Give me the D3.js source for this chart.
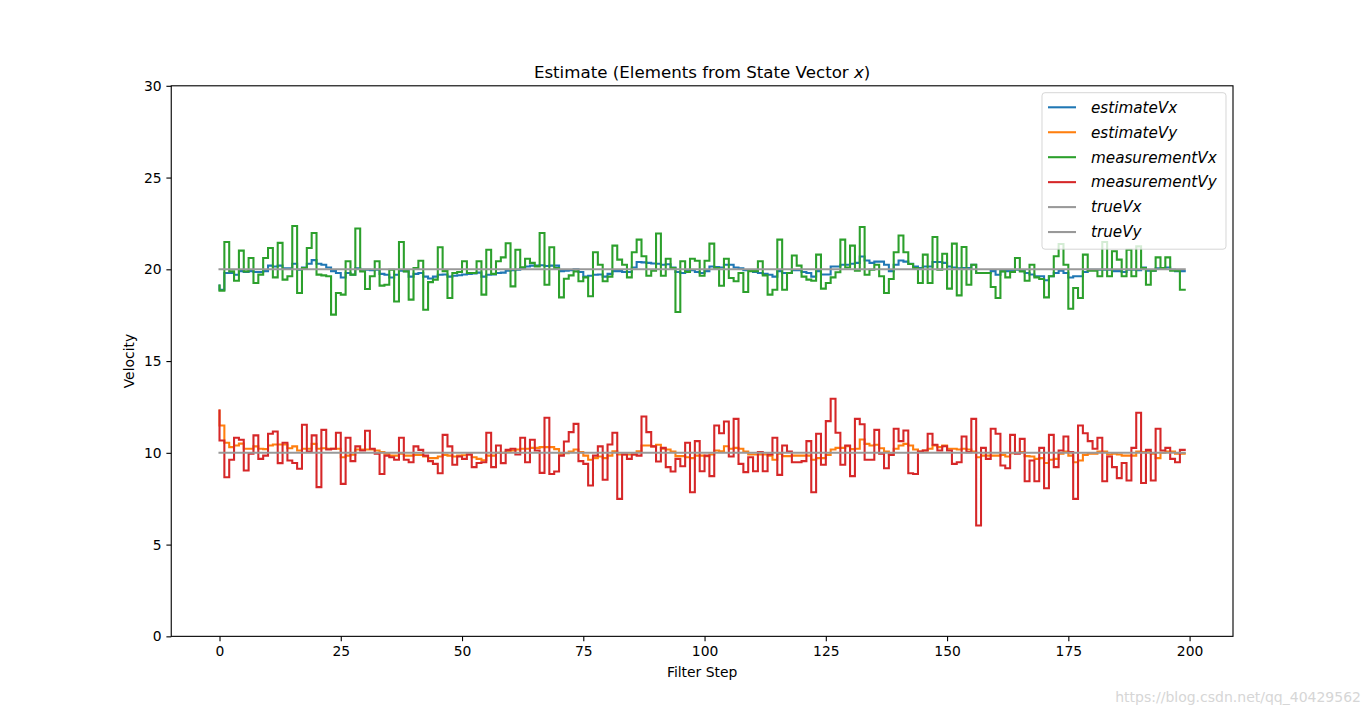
<!DOCTYPE html>
<html><head><meta charset="utf-8">
<script src="https://cdn.jsdelivr.net/npm/d3@7"></script>
<style>body{margin:0;background:#fff}svg{display:block}text{font-family:"DejaVu Sans",sans-serif}</style>
</head><body><svg id="c" width="1370" height="715"></svg>
<script>
const xTicks = [0,25,50,75,100,125,150,175,200];
const yTicks = [0,5,10,15,20,25,30];
const seriesNames = ["estimateVx","estimateVy","measurementVx","measurementVy","trueVx","trueVy"];
const seriesColors = ["#1f77b4","#ff7f0e","#2ca02c","#d62728","#999999","#999999"];

const estimateVx = [19.11,18.89,19.8,19.8,19.7,19.9,19.85,19.9,19.85,19.85,19.9,20.2,20.15,20.2,20.05,20.05,20.3,19.98,20.1,20.3,20.5,20.3,20.25,20.1,19.9,19.8,19.55,19.8,19.7,20.05,19.98,19.98,19.95,19.98,19.75,19.7,19.55,19.7,19.93,19.9,19.6,
19.75,19.8,19.6,19.5,19.6,19.7,19.72,19.6,19.65,19.68,19.72,19.75,19.78,19.82,19.6,19.7,19.72,19.8,19.82,19.92,19.95,19.98,20.07,20.15,20.2,20.2,20.22,20.18,20.2,20.2,19.9,19.92,19.95,20.0,19.85,19.6,19.65,19.7,19.72,19.6,
19.75,19.9,19.9,19.85,19.85,20.1,20.4,20.38,20.35,20.32,20.3,20.25,20.28,20.1,19.85,19.8,19.9,19.95,19.85,19.8,19.9,20.15,20.12,20.1,20.25,20.25,20.1,20.05,19.95,19.95,19.85,19.8,19.75,19.7,19.6,19.9,19.8,19.8,19.95,19.95,
19.85,19.8,19.6,19.9,19.72,19.72,20.15,20.15,20.25,20.25,20.3,20.35,20.7,20.48,20.35,20.42,20.42,20.25,19.9,20.25,20.48,20.42,20.3,20.15,20.07,20.15,20.15,20.4,20.4,20.35,20.15,20.1,20.05,20.07,20.07,20.25,19.8,19.8,19.8,19.9,19.7,
19.9,19.9,19.92,19.98,19.95,19.8,19.72,19.62,19.62,19.4,19.62,19.8,19.93,19.8,19.55,19.62,19.62,19.85,19.98,19.98,19.98,19.98,19.98,19.9,19.9,19.85,19.98,19.98,19.95,20.1,19.93,19.93,20.05,20.05,20.1,19.98,19.9,19.9];

const estimateVy = [12.31,11.49,10.55,10.31,10.4,10.5,10.22,10.22,10.35,10.22,10.2,10.4,10.45,10.45,10.45,10.25,10.35,10.13,10.22,10.22,10.49,10.22,10.25,10.22,10.22,10.22,9.76,9.85,9.9,10.18,10.18,10.18,10.18,10.13,10.04,9.95,9.85,9.85,9.95,9.85,9.85,
9.89,9.89,9.8,9.71,9.71,9.8,9.89,9.85,9.8,9.85,9.87,9.91,9.76,9.67,9.6,9.85,9.85,10.0,10.0,10.07,10.13,10.18,10.22,10.22,10.27,10.27,10.31,10.31,10.31,10.2,9.95,9.98,10.07,10.18,10.04,9.85,9.62,9.71,9.8,9.71,
9.85,10.09,9.91,9.91,9.91,9.91,10.09,10.4,10.4,10.35,10.44,10.22,10.18,10.07,9.82,9.82,9.76,9.71,9.85,9.85,9.82,9.91,10.13,10.09,10.36,10.22,10.27,10.22,10.07,9.91,9.91,9.91,9.91,9.85,9.62,9.95,9.82,9.82,9.85,9.85,
9.85,9.85,9.62,9.71,9.71,9.89,10.18,10.27,10.27,10.36,10.2,10.22,10.73,10.49,10.4,10.44,10.25,10.07,9.91,10.22,10.4,10.49,10.4,10.18,10.07,10.13,10.22,10.4,10.31,10.4,10.22,10.22,10.18,10.22,10.18,10.07,9.76,9.85,9.85,9.85,9.85,
9.89,9.8,9.98,10.0,10.04,9.82,9.8,9.67,9.71,9.45,9.62,9.67,9.95,10.07,9.85,9.49,9.58,9.89,9.95,9.95,10.07,10.07,9.91,9.95,9.91,9.85,9.85,9.85,10.07,10.04,10.04,9.95,9.71,10.0,10.07,10.07,9.95,9.95];

const measurementVx = [19.11,18.84,21.49,19.89,19.38,21.02,19.89,20.62,19.25,19.71,20.62,21.16,19.56,21.44,19.44,19.62,22.36,18.71,20.07,21.16,21.98,19.71,19.67,19.62,17.53,18.71,18.62,20.44,19.71,22.22,19.89,18.93,19.62,20.44,19.11,19.16,19.98,18.25,21.49,19.89,18.35,
20.07,20.47,17.8,19.3,19.44,21.2,19.9,18.44,19.8,19.85,20.44,19.8,19.8,20.44,18.62,21.07,19.75,20.44,20.65,21.42,19.07,21.07,20.11,20.58,20.35,20.16,21.98,19.16,21.2,20.07,18.47,19.49,19.67,19.89,19.35,19.56,18.53,20.93,20.25,19.35,
19.6,21.29,20.53,20.25,19.56,20.93,21.62,20.71,19.65,19.93,21.95,19.65,20.58,20.07,17.67,20.44,19.85,20.58,20.47,19.65,20.47,21.4,20.07,19.1,20.58,19.53,19.35,19.8,18.76,19.9,19.9,20.44,19.67,18.62,18.89,21.62,18.89,19.8,20.75,20.2,
19.6,19.44,19.38,20.8,18.95,19.25,19.56,19.84,21.62,20.1,21.29,19.93,22.31,19.7,19.98,20.25,19.62,18.71,19.47,20.93,21.84,20.93,20.29,20.07,19.25,20.8,19.25,21.76,19.98,20.85,18.95,21.4,18.58,21.22,19.16,20.25,19.8,19.8,19.8,19.04,18.44,
19.89,19.56,19.85,20.62,19.89,19.38,20.25,19.56,19.47,18.47,19.62,20.71,21.38,20.25,17.85,18.98,18.44,20.8,19.93,19.93,19.62,21.49,19.62,20.98,20.53,19.62,21.07,19.62,21.25,20.07,19.16,19.93,20.65,20.07,20.65,19.93,19.93,18.89];

const measurementVy = [12.31,10.67,8.67,9.62,10.82,10.71,9.04,9.95,10.95,9.67,9.85,11.04,11.16,9.44,10.55,9.58,9.45,9.13,11.53,10.07,10.95,8.13,11.25,10.18,10.22,11.09,8.31,10.82,9.55,10.35,10.13,11.2,10.22,9.95,8.85,9.85,9.76,9.62,10.82,9.62,9.49,
10.35,10.16,9.85,9.55,9.4,8.89,10.98,10.35,9.35,9.8,9.67,9.91,9.22,9.45,9.49,11.09,9.22,10.4,9.44,10.16,10.22,9.91,10.82,9.49,10.71,10.13,8.91,11.91,8.85,8.98,9.85,10.62,11.13,11.58,9.55,9.4,8.22,9.85,10.35,8.53,
10.45,11.09,7.49,9.91,9.67,9.91,9.85,11.98,11.13,10.35,9.53,10.27,9.22,8.98,9.67,9.27,10.55,7.85,10.64,9.0,9.85,8.73,11.49,11.07,11.71,9.8,11.85,9.4,8.95,9.76,9.0,10.04,9.0,9.91,10.82,8.8,10.4,10.07,9.49,9.49,
9.55,10.64,7.85,11.04,9.35,11.73,12.95,11.09,9.35,10.4,8.73,11.85,11.56,9.62,9.62,11.25,9.95,9.16,9.89,11.31,10.64,11.22,8.89,8.85,10.07,10.13,11.04,10.44,10.13,10.36,10.13,9.4,9.49,10.89,10.04,11.85,6.04,10.27,9.67,11.31,11.04,
9.31,9.16,10.98,9.95,10.76,8.45,9.58,8.45,10.27,8.07,10.98,9.22,10.13,10.89,10.04,7.49,11.49,11.07,10.64,10.22,10.82,8.45,9.8,9.22,8.62,9.45,8.49,10.27,12.18,8.36,10.16,8.49,11.31,10.13,10.27,9.67,9.49,10.16];

const trueVx = 20;
const trueVy = 10;
const steps = d3.range(measurementVx.length);

const W = 1370, H = 715;
const L = 171.25, R = 1233, T = 85.8, B = 636.35;
const FS = 13.89;
const svg = d3.select("#c");
svg.append("rect").attr("width",W).attr("height",H).attr("fill","#fff");

const x = d3.scaleLinear().domain([-9.95, 208.95]).range([L, R]);
const y = d3.scaleLinear().domain([0, 30]).range([B, T]);

svg.append("clipPath").attr("id","clip").append("rect")
  .attr("x",L).attr("y",T).attr("width",R-L).attr("height",B-T);

const plot = svg.append("g").attr("clip-path","url(#clip)");
const stepLine = d3.line().x((d,i)=>x(steps[i])).y(d=>y(d)).curve(d3.curveStepBefore);

const seriesData = [estimateVx, estimateVy, measurementVx, measurementVy,
  steps.map(()=>trueVx), steps.map(()=>trueVy)];
seriesData.forEach((arr,k)=>{
  plot.append("path").datum(arr).attr("d", stepLine)
    .attr("fill","none").attr("stroke", seriesColors[k]).attr("stroke-width",2.08)
    .attr("stroke-linejoin","miter").attr("stroke-linecap","square");
});

// axes
const xAxis = d3.axisBottom(x).tickValues(xTicks).tickFormat(d3.format("d")).tickSizeInner(4.86).tickSizeOuter(0).tickPadding(4.86);
const yAxis = d3.axisLeft(y).tickValues(yTicks).tickFormat(d3.format("d")).tickSizeInner(4.86).tickSizeOuter(0).tickPadding(4.86);
const gx = svg.append("g").attr("transform",`translate(0,${B})`).call(xAxis);
const gy = svg.append("g").attr("transform",`translate(${L},0)`).call(yAxis);
[gx,gy].forEach(g=>{
  g.select(".domain").remove();
  g.selectAll("line").attr("stroke","#000").attr("stroke-width",1.11);
  g.selectAll("text").attr("font-size",FS).attr("fill","#000").attr("font-family","DejaVu Sans");
});
svg.append("rect").attr("x",L).attr("y",T).attr("width",R-L).attr("height",B-T)
  .attr("fill","none").attr("stroke","#000").attr("stroke-width",1.11);

// title
const title = svg.append("text").attr("x",(L+R)/2).attr("y",77.5).attr("text-anchor","middle")
  .attr("font-size",16.67).attr("fill","#000");
title.append("tspan").text("Estimate (Elements from State Vector ");
title.append("tspan").attr("font-style","italic").text("x");
title.append("tspan").text(")");

svg.append("text").attr("x",(L+R)/2).attr("y",677).attr("text-anchor","middle")
  .attr("font-size",FS).attr("fill","#000").text("Filter Step");
svg.append("text").attr("transform",`translate(134,${(T+B)/2}) rotate(-90)`).attr("text-anchor","middle")
  .attr("font-size",FS).attr("fill","#000").text("Velocity");

// legend
const lgX = 1042, lgY = 92.7, lgW = 1226-1042, lgH = 156.5;
const lg = svg.append("g");
lg.append("rect").attr("x",lgX).attr("y",lgY).attr("width",lgW).attr("height",lgH)
  .attr("rx",3).attr("ry",3).attr("fill","#fff").attr("fill-opacity",0.8)
  .attr("stroke","#cccccc").attr("stroke-opacity",0.8).attr("stroke-width",1);
seriesNames.forEach((name,k)=>{
  const cy = 107.3 + k*24.95;
  lg.append("line").attr("x1",1048).attr("x2",1076).attr("y1",cy).attr("y2",cy)
    .attr("stroke",seriesColors[k]).attr("stroke-width",2.08);
  lg.append("text").attr("x",1091).attr("y",cy+5.3).attr("font-size",15.2)
    .attr("font-style","italic").attr("fill","#000").text(name);
});

// watermark
svg.append("text").attr("x",1361).attr("y",702).attr("text-anchor","end")
  .attr("font-size",14).attr("fill","#d6d6d6").text("https://blog.csdn.net/qq_40429562");
</script></body></html>
